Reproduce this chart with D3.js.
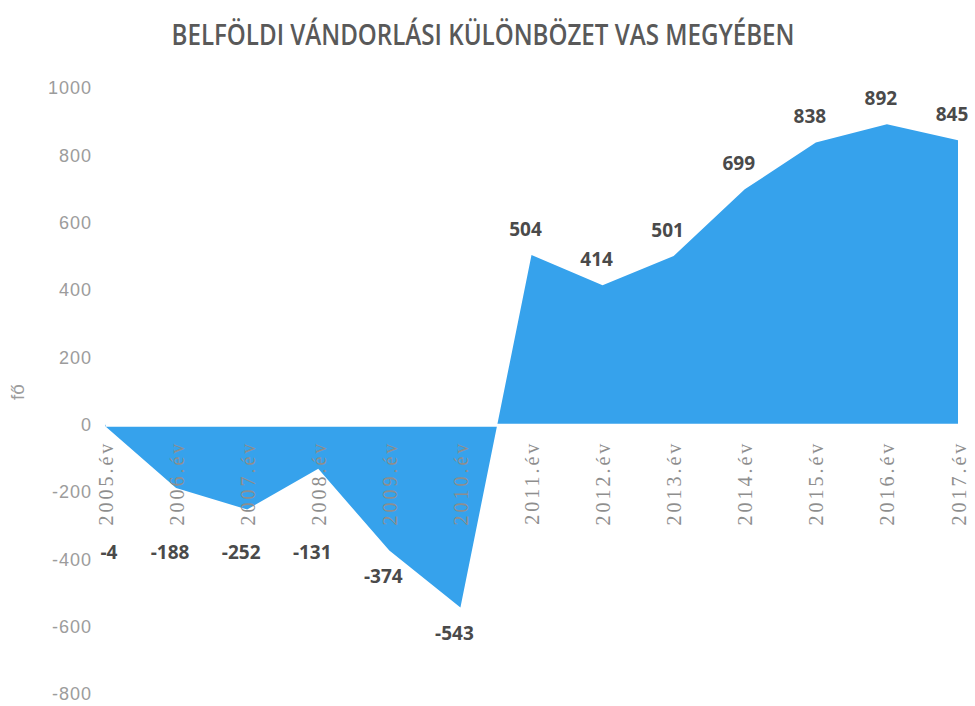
<!DOCTYPE html>
<html>
<head>
<meta charset="utf-8">
<script src="https://cdn.jsdelivr.net/npm/d3@7"></script>
<style>
  body { margin: 0; background: #fff; }
  svg { display: block; }
</style>
</head>
<body>
<svg id="chart"></svg>
<script>
// data
var years = ["2005.év", "2006.év", "2007.év", "2008.év", "2009.év", "2010.év", "2011.év",
             "2012.év", "2013.év", "2014.év", "2015.év", "2016.év", "2017.év"];
var values = [-4, -188, -252, -131, -374, -543, 504, 414, 501, 699, 838, 892, 845];
var yTicks = [1000, 800, 600, 400, 200, 0, -200, -400, -600, -800];
var titleText = "BELFÖLDI VÁNDORLÁSI KÜLÖNBÖZET VAS MEGYÉBEN";
var yTitle = "fő";

var width = 975, height = 706;
var margin = { top: 88, right: 17, bottom: 12, left: 105 };

var svg = d3.select("#chart")
    .attr("width", width)
    .attr("height", height);

var data = years.map(function (d, i) { return { year: d, value: values[i] }; });

var xScale = d3.scalePoint()
    .domain(years)
    .range([margin.left, width - margin.right]);

var yScale = d3.scaleLinear()
    .domain([-800, 1000])
    .range([height - margin.bottom, margin.top]);

// title
svg.append("text")
    .attr("x", 483)
    .attr("y", 45)
    .attr("text-anchor", "middle")
    .attr("textLength", 623)
    .attr("lengthAdjust", "spacingAndGlyphs")
    .style("font-family", "'Open Sans', sans-serif")
    .style("font-weight", 600)
    .style("font-size", "28px")
    .style("fill", "#595959")
    .text(titleText);

// the area
var area = d3.area()
    .x(function (d) { return xScale(d.year); })
    .y0(yScale(0))
    .y1(function (d) { return yScale(d.value); });

svg.append("path")
    .datum(data)
    .attr("d", area)
    .attr("fill", "#36A2EC");

// y axis
var yAxis = svg.append("g")
    .attr("transform", "translate(92,0)")
    .call(d3.axisLeft(yScale).tickValues(yTicks).tickSize(0).tickPadding(0)
        .tickFormat(function (d) { return String(d); }));
yAxis.select(".domain").remove();
yAxis.selectAll("text")
    .style("font-family", "'Liberation Sans', sans-serif")
    .style("font-size", "18px")
    .style("letter-spacing", "1px")
    .style("fill", "#9c9c9c");

// y title
svg.append("text")
    .attr("transform", "translate(24,392) rotate(-90)")
    .attr("text-anchor", "middle")
    .style("font-family", "'Liberation Sans', sans-serif")
    .style("font-size", "19px")
    .style("fill", "#9c9c9c")
    .text(yTitle);

// x axis at zero, labels rotated
var xAxis = svg.append("g")
    .attr("transform", "translate(0," + yScale(0) + ")")
    .call(d3.axisBottom(xScale).tickSize(0));
xAxis.select(".domain")
    .attr("stroke", "#fff")
    .attr("stroke-width", 3);
xAxis.selectAll("text")
    .attr("transform", "rotate(-90)")
    .attr("x", -16)
    .attr("y", 0)
    .attr("dy", "0.35em")
    .style("text-anchor", "end")
    .style("font-family", "'Liberation Serif', serif")
    .style("font-size", "20px")
    .style("letter-spacing", "3px")
    .style("fill", "#8e8e8e");

// data labels
var labelFloor = yScale(-380);
svg.append("g")
    .selectAll("text")
    .data(data)
    .enter()
    .append("text")
    .attr("x", function (d) { return Math.max(xScale(d.year) - 6, margin.left + 4); })
    .attr("y", function (d) {
        if (d.value >= 0) return yScale(d.value) - 26;
        return Math.max(yScale(d.value) + 26, labelFloor);
    })
    .attr("dy", "0.35em")
    .attr("text-anchor", "middle")
    .style("font-family", "'Open Sans', sans-serif")
    .style("font-weight", 700)
    .style("font-size", "19px")
    .style("fill", "#4a4a4a")
    .text(function (d) { return String(d.value); });
</script>
</body>
</html>
